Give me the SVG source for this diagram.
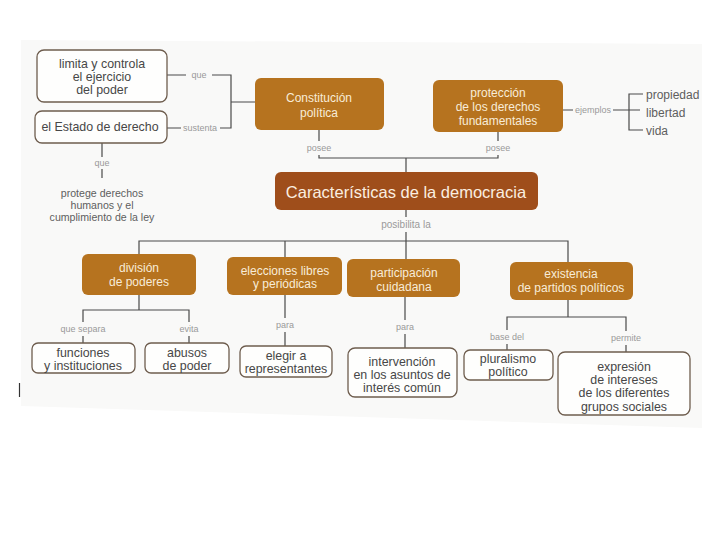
<svg xmlns="http://www.w3.org/2000/svg" width="720" height="540" viewBox="0 0 720 540">
<style>
.wb{fill:#fefefd;stroke:#6e5d4e;stroke-width:1.3}
.bb{fill:#b6731f}
.main{fill:#9f4e1b}
.wt{font-family:"Liberation Sans","Noto Sans",sans-serif;font-size:12.4px;fill:#474747;text-anchor:middle}
.bt{font-family:"Liberation Sans","Noto Sans",sans-serif;font-size:12px;fill:#f8ecd8;text-anchor:middle}
.lb{font-family:"Liberation Sans","Noto Sans",sans-serif;font-size:9px;fill:#9a9a9a;text-anchor:middle}
.pt{font-family:"Liberation Sans","Noto Sans",sans-serif;font-size:12px;fill:#5e5e5e}
.pr{font-family:"Liberation Sans","Noto Sans",sans-serif;font-size:10.6px;fill:#5e5e5e;text-anchor:middle}
.cn{fill:none;stroke:#4a4a4a;stroke-width:1.2}
</style>
<rect x="0" y="0" width="720" height="540" fill="#ffffff"/>
<polygon points="21,40 702,44 702,428 21,406" fill="#f9f9f8"/>
<line x1="19.5" y1="383" x2="19.5" y2="397" stroke="#333" stroke-width="1.2"/>

<g id="connectors" class="cn">
<path d="M167,75 H186 M212,75 H231 V128 H220 M181,128 H167 M231,102 H255"/>
<path d="M102,143 V157 M102,169 V178"/>
<path d="M319,130 V141 M319,155 V158 H498 V155 M498,141 V132 M406,158 V172"/>
<path d="M563,110 H573 M613,110 H640 M643,94 H629 V130 H643"/>
<path d="M406,210 V217 M406,232 V259 M139,254 V241 H568 V262 M285,241 V257"/>
<path d="M139,295 V310 M83,322 V310 H189 V322 M83,336 V343 M189,336 V343"/>
<path d="M285,295 V318 M285,332 V346"/>
<path d="M405,297 V320 M405,334 V348"/>
<path d="M568,300 V317 M507,330 V317 H626 V331 M507,344 V350 M626,345 V352"/>
</g>
<g id="connector-labels">
<text class="lb" x="199" y="78">que</text>
<text class="lb" x="200" y="131">sustenta</text>
<text class="lb" x="102" y="166">que</text>
<text class="lb" x="319" y="151">posee</text>
<text class="lb" x="498" y="151">posee</text>
<text class="lb" x="593" y="113">ejemplos</text>
<text class="lb" x="406" y="228" style="font-size:10px">posibilita la</text>
<text class="lb" x="83" y="332">que separa</text>
<text class="lb" x="189" y="332">evita</text>
<text class="lb" x="285" y="328">para</text>
<text class="lb" x="405" y="330">para</text>
<text class="lb" x="507" y="340">base del</text>
<text class="lb" x="626" y="341">permite</text>
</g>

<g id="limita">
<rect class="wb" x="37" y="50" width="130" height="52" rx="7"/>
<text class="wt" x="102" y="68">limita y controla</text>
<text class="wt" x="102" y="81">el ejercicio</text>
<text class="wt" x="102" y="94">del poder</text>
</g>
<g id="estado">
<rect class="wb" x="35" y="111" width="132" height="32" rx="7"/>
<text class="wt" x="100" y="131">el Estado de derecho</text>
</g>
<g id="protege">
<text class="pr" x="102" y="197">protege derechos</text>
<text class="pr" x="102" y="209">humanos y el</text>
<text class="pr" x="102" y="221">cumplimiento de la ley</text>
</g>
<g id="constitucion">
<rect class="bb" x="255" y="78" width="129" height="52" rx="6"/>
<text class="bt" x="319" y="102">Constitución</text>
<text class="bt" x="319" y="117">política</text>
</g>
<g id="proteccion">
<rect class="bb" x="433" y="80" width="130" height="52" rx="6"/>
<text class="bt" x="498" y="97">protección</text>
<text class="bt" x="498" y="111">de los derechos</text>
<text class="bt" x="498" y="125">fundamentales</text>
</g>
<g id="ejemplos">
<text class="pt" x="646" y="99">propiedad</text>
<text class="pt" x="646" y="117">libertad</text>
<text class="pt" x="646" y="135">vida</text>
</g>
<g id="caracteristicas">
<rect class="main" x="275" y="172" width="263" height="38" rx="6"/>
<text x="406" y="198" text-anchor="middle" font-family="Liberation Sans, Noto Sans, sans-serif" font-size="16.5" fill="#fbeee0">Características de la democracia</text>
</g>
<g id="division">
<rect class="bb" x="82" y="254" width="114" height="41" rx="6"/>
<text class="bt" x="139" y="272">división</text>
<text class="bt" x="139" y="286">de poderes</text>
</g>
<g id="elecciones">
<rect class="bb" x="227" y="257" width="115" height="38" rx="6"/>
<text class="bt" x="285" y="275">elecciones libres</text>
<text class="bt" x="285" y="288">y periódicas</text>
</g>
<g id="participacion">
<rect class="bb" x="347" y="259" width="113" height="38" rx="6"/>
<text class="bt" x="404" y="277">participación</text>
<text class="bt" x="404" y="291">cuidadana</text>
</g>
<g id="existencia">
<rect class="bb" x="510" y="262" width="123" height="38" rx="6"/>
<text class="bt" x="571" y="278">existencia</text>
<text class="bt" x="571" y="292">de partidos políticos</text>
</g>
<g id="funciones">
<rect class="wb" x="32" y="343" width="103" height="30" rx="6"/>
<text class="wt" x="83" y="357">funciones</text>
<text class="wt" x="83" y="370">y instituciones</text>
</g>
<g id="abusos">
<rect class="wb" x="145" y="343" width="84" height="30" rx="6"/>
<text class="wt" x="187" y="357">abusos</text>
<text class="wt" x="187" y="370">de poder</text>
</g>
<g id="elegir">
<rect class="wb" x="240" y="346" width="92" height="31" rx="6"/>
<text class="wt" x="286" y="360">elegir a</text>
<text class="wt" x="286" y="373">representantes</text>
</g>
<g id="intervencion">
<rect class="wb" x="348" y="348" width="109" height="49" rx="7"/>
<text class="wt" x="402" y="366">intervención</text>
<text class="wt" x="402" y="379">en los asuntos de</text>
<text class="wt" x="402" y="392">interés común</text>
</g>
<g id="pluralismo">
<rect class="wb" x="464" y="350" width="89" height="30" rx="6"/>
<text class="wt" x="508" y="363">pluralismo</text>
<text class="wt" x="508" y="376">político</text>
</g>
<g id="expresion">
<rect class="wb" x="558" y="352" width="132" height="63" rx="7"/>
<text class="wt" x="624" y="371">expresión</text>
<text class="wt" x="624" y="384">de intereses</text>
<text class="wt" x="624" y="397">de los diferentes</text>
<text class="wt" x="624" y="411">grupos sociales</text>
</g>
</svg>
